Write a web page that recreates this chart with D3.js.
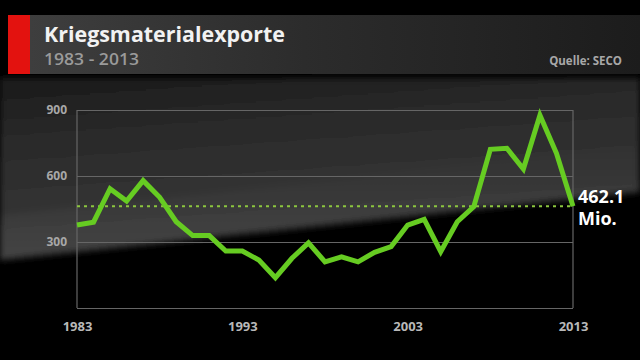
<!DOCTYPE html>
<html>
<head>
<meta charset="utf-8">
<script src="https://cdn.jsdelivr.net/npm/d3@7"></script>
<style>
html,body{margin:0;padding:0;background:#000;}
svg{display:block;}
text{font-family:"Open Sans","DejaVu Sans",sans-serif;}
</style>
</head>
<body>
<svg id="chart" width="640" height="360"></svg>
<script>
const years = d3.range(1983, 2014);
const values = [377, 390, 542, 486, 579, 503, 392, 329, 329, 259,
                259, 218, 138, 226, 296, 210, 233, 210, 253, 279,
                377, 403, 256, 392, 461, 721, 726, 632, 876, 703,
                462.1];
const yTicks = [300, 600, 900];
const xTicks = [1983, 1993, 2003, 2013];
const title = "Kriegsmaterialexporte";
const subtitle = "1983 - 2013";
const source = "Quelle: SECO";
const lastLabel = ["462.1", "Mio."];

const svg = d3.select("#chart");
const defs = svg.append("defs");

// background
svg.append("rect").attr("width",640).attr("height",360).attr("fill","#000");

const g1 = defs.append("linearGradient").attr("id","bgGrad")
  .attr("x1","0").attr("y1","0").attr("x2","0.25").attr("y2","1");
g1.append("stop").attr("offset","0").attr("stop-color","#1a1a1a");
g1.append("stop").attr("offset","0.35").attr("stop-color","#2b2b2b");
g1.append("stop").attr("offset","1").attr("stop-color","#383838");

const blur = defs.append("filter").attr("id","soft").attr("x","-10%").attr("y","-10%").attr("width","120%").attr("height","130%");
blur.append("feGaussianBlur").attr("stdDeviation",3);

svg.append("polygon")
  .attr("points","0,78 640,78 640,192 0,260")
  .attr("fill","url(#bgGrad)").attr("filter","url(#soft)");

const g2 = defs.append("linearGradient").attr("id","streak")
  .attr("x1","0").attr("y1","0").attr("x2","0").attr("y2","1");
g2.append("stop").attr("offset","0").attr("stop-color","#fff").attr("stop-opacity",0);
g2.append("stop").attr("offset","1").attr("stop-color","#fff").attr("stop-opacity",0.07);
svg.append("polygon")
  .attr("points","0,215 640,148 640,192 0,260")
  .attr("fill","url(#streak)").attr("filter","url(#soft)");

// header band
const g3 = defs.append("linearGradient").attr("id","headGrad")
  .attr("x1","0").attr("y1","0").attr("x2","1").attr("y2","0");
g3.append("stop").attr("offset","0").attr("stop-color","#3e3e3e");
g3.append("stop").attr("offset","0.45").attr("stop-color","#2c2c2c");
g3.append("stop").attr("offset","1").attr("stop-color","#1c1c1c");
svg.append("rect").attr("x",30).attr("y",15).attr("width",610).attr("height",59).attr("fill","url(#headGrad)");
svg.append("rect").attr("x",8).attr("y",15).attr("width",22).attr("height",59).attr("fill","#e3120f");

svg.append("text").attr("x",44).attr("y",42)
  .attr("font-size",22).attr("font-weight","bold").attr("fill","#f2f2f2")
  .attr("textLength",241).attr("lengthAdjust","spacingAndGlyphs").text(title);
svg.append("text").attr("x",44).attr("y",65)
  .attr("font-size",17).attr("font-weight",600).attr("fill","#9a9a9a")
  .attr("textLength",95).attr("lengthAdjust","spacingAndGlyphs").text(subtitle);
svg.append("text").attr("x",622).attr("y",65).attr("text-anchor","end")
  .attr("font-size",11.5).attr("font-weight","bold").attr("fill","#a8a8a8").text(source);

// scales
const x = d3.scaleLinear().domain([1983, 2013]).range([77, 573]);
const y = d3.scaleLinear().domain([0, 900]).range([308, 110]);

// grid + frame
const grid = svg.append("g").attr("transform","translate(77,0)")
  .call(d3.axisLeft(y).tickValues([0].concat(yTicks)).tickSize(-(573-77)).tickFormat(""));
grid.select(".domain").remove();
grid.selectAll(".tick line").attr("stroke","#666").attr("stroke-width",1.2);

svg.append("line").attr("x1",x(1983)).attr("x2",x(1983)).attr("y1",y(900)).attr("y2",y(0))
  .attr("stroke","#666").attr("stroke-width",1.2);
svg.append("line").attr("x1",x(2013)).attr("x2",x(2013)).attr("y1",y(900)).attr("y2",y(0))
  .attr("stroke","#666").attr("stroke-width",1.2);

// y labels
const yAxis = svg.append("g").attr("transform","translate(67,0)")
  .call(d3.axisLeft(y).tickValues(yTicks).tickSize(0).tickPadding(0));
yAxis.select(".domain").remove();
yAxis.selectAll("text").attr("font-size",12).attr("font-weight","bold").attr("fill","#a8a8a8")
  .attr("font-family","Open Sans, DejaVu Sans, sans-serif");

// x labels
const xAxis = svg.append("g").attr("transform","translate(0,322)")
  .call(d3.axisBottom(x).tickValues(xTicks).tickFormat(d3.format("d")).tickSize(0).tickPadding(0));
xAxis.select(".domain").remove();
xAxis.selectAll("text").attr("font-size",13).attr("font-weight","bold").attr("fill","#b8b8b8")
  .attr("font-family","Open Sans, DejaVu Sans, sans-serif");

// dashed reference line at last value
const lastVal = values[values.length-1];
svg.append("line").attr("x1",x(1983)).attr("x2",x(2013)).attr("y1",y(lastVal)).attr("y2",y(lastVal))
  .attr("stroke","#8cc63f").attr("stroke-width",2).attr("stroke-dasharray","3,4");

// data line
const line = d3.line().x((d,i)=>x(years[i])).y(d=>y(d));
svg.append("path").datum(values).attr("d",line)
  .attr("fill","none").attr("stroke","#66cc22").attr("stroke-width",5)
  .attr("stroke-linejoin","miter").attr("stroke-miterlimit",6);

// end label
const lbl = svg.append("text").attr("x",578).attr("y",203)
  .attr("font-size",18).attr("font-weight","bold").attr("fill","#ffffff");
lbl.append("tspan").attr("x",578).attr("y",203).text(lastLabel[0]);
lbl.append("tspan").attr("x",578).attr("y",225).text(lastLabel[1]);
</script>
</body>
</html>
